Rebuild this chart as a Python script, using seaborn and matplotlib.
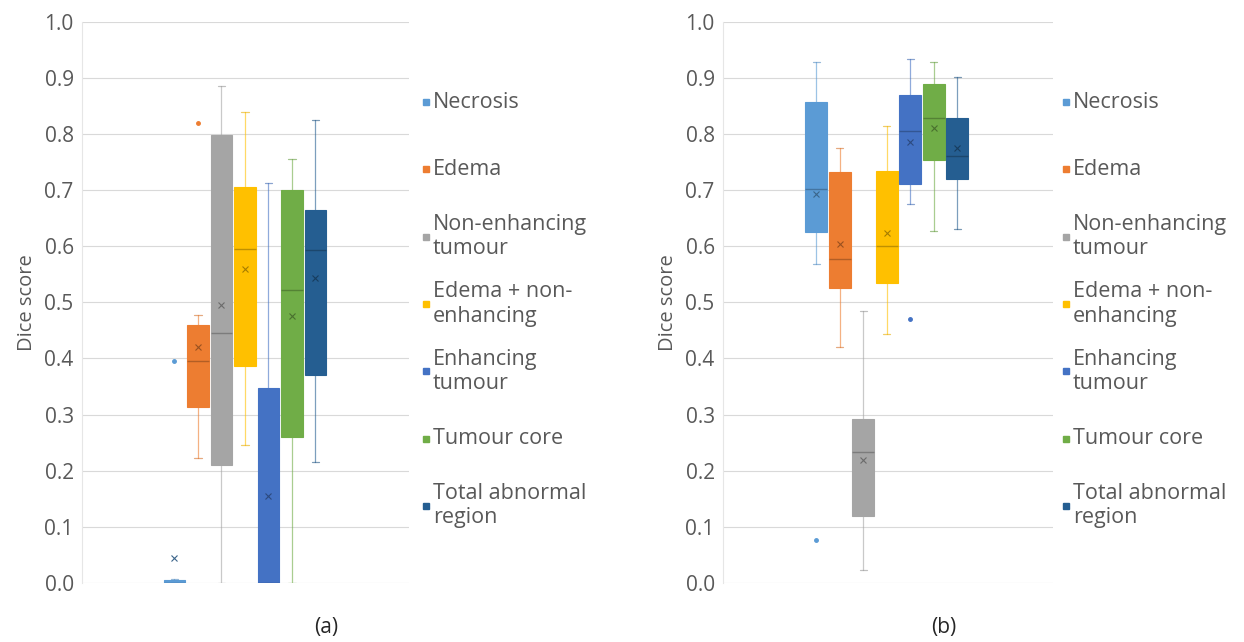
import numpy as np
import matplotlib
matplotlib.use("Agg")
import matplotlib.pyplot as plt
import matplotlib.colors as mcolors
import seaborn as sns

# Region names (legend labels, wrapped as in the figure)
regions = ["Necrosis", "Edema", "Non-enhancing\ntumour", "Edema + non-\nenhancing",
           "Enhancing\ntumour", "Tumour core", "Total abnormal\nregion"]
colors = ["#5B9BD5", "#ED7D31", "#A5A5A5", "#FFC000", "#4472C4", "#70AD47", "#255E91"]

# Panel (a) summary statistics
a_whislo = [0.000, 0.223, 0.000, 0.245, 0.000, 0.000, 0.215]
a_q1     = [0.000, 0.313, 0.210, 0.387, 0.000, 0.261, 0.371]
a_med    = [0.000, 0.395, 0.446, 0.595, 0.000, 0.522, 0.593]
a_q3     = [0.005, 0.460, 0.799, 0.705, 0.347, 0.700, 0.664]
a_whishi = [0.008, 0.477, 0.886, 0.840, 0.713, 0.756, 0.825]
a_mean   = [0.044, 0.420, 0.495, 0.560, 0.155, 0.476, 0.544]
a_fliers = [[0.396], [0.820], [], [], [], [], []]

# Panel (b) summary statistics
b_whislo = [0.568, 0.420, 0.023, 0.443, 0.676, 0.628, 0.631]
b_q1     = [0.625, 0.525, 0.120, 0.535, 0.710, 0.753, 0.719]
b_med    = [0.702, 0.577, 0.233, 0.600, 0.805, 0.828, 0.760]
b_q3     = [0.857, 0.732, 0.293, 0.734, 0.869, 0.889, 0.828]
b_whishi = [0.928, 0.775, 0.484, 0.815, 0.934, 0.928, 0.901]
b_mean   = [0.693, 0.604, 0.219, 0.623, 0.785, 0.811, 0.775]
b_fliers = [[0.076], [], [], [], [0.471], [], []]

yticks = np.round(np.arange(0, 1.01, 0.1), 1)
captions = ["(a)", "(b)"]

sns.set_theme(style="whitegrid")
plt.rcParams["font.family"] = ["Open Sans", "DejaVu Sans"]
text_color = "#595959"


def darken(c, f=0.3):
    r, g, b = mcolors.to_rgb(c)
    return (r * (1 - f), g * (1 - f), b * (1 - f))


def draw_panel(ax, xlim, whislo, q1, med, q3, whishi, mean, fliers):
    positions = np.arange(len(regions))
    for i in range(len(regions)):
        stats = [dict(whislo=whislo[i], q1=q1[i], med=med[i], q3=q3[i],
                      whishi=whishi[i], mean=mean[i], fliers=fliers[i])]
        c = colors[i]
        ax.bxp(stats, positions=[positions[i]], widths=0.92, patch_artist=True,
               showmeans=True, capwidths=0.3,
               boxprops=dict(facecolor=c, edgecolor=c, linewidth=0.8),
               medianprops=dict(color=darken(c, 0.25), linewidth=1.0),
               whiskerprops=dict(color=c, linewidth=0.9, alpha=0.6),
               capprops=dict(color=darken(c, 0.1), linewidth=0.9, alpha=0.6),
               meanprops=dict(marker="x", markeredgecolor=darken(c, 0.35),
                              markersize=5, markeredgewidth=0.8),
               flierprops=dict(marker="o", markerfacecolor=c, markeredgecolor=c,
                               markersize=2.5))
    ax.set_xlim(*xlim)
    ax.set_ylim(0, 1.0)
    ax.set_yticks(yticks)
    ax.set_yticklabels([f"{t:.1f}" for t in yticks])
    ax.set_xticks([])
    ax.grid(axis="y", color="#D9D9D9", linewidth=0.8)
    ax.grid(axis="x", visible=False)
    ax.set_axisbelow(True)
    for s in ["top", "right", "bottom"]:
        ax.spines[s].set_visible(False)
    ax.spines["left"].set_color("#E6E6E6")
    ax.spines["left"].set_linewidth(0.8)
    ax.tick_params(axis="y", labelsize=15, colors=text_color, length=0, pad=6)
    ax.set_ylabel("Dice score", fontsize=14.5, color=text_color, labelpad=5)


fig = plt.figure(figsize=(12.44, 6.42), dpi=100)
W, H = 1244, 642
y0, y1 = 583, 21.7
ax_a = fig.add_axes([82 / W, 1 - y0 / H, 327 / W, (y0 - y1) / H])
ax_b = fig.add_axes([723 / W, 1 - y0 / H, 330 / W, (y0 - y1) / H])

draw_panel(ax_a, (-3.936, 9.979), a_whislo, a_q1, a_med, a_q3, a_whishi, a_mean, a_fliers)
draw_panel(ax_b, (-3.966, 10.077), b_whislo, b_q1, b_med, b_q3, b_whishi, b_mean, b_fliers)

# Legends to the right of each panel, evenly spaced as in Excel
for mx in (426, 1066):
    for i, (lab, c) in enumerate(zip(regions, colors)):
        yc = 1 - (102 + i * 67.3) / H
        fig.patches.append(plt.Rectangle(((mx - 3) / W, yc - 3 / H), 6 / W, 6 / H,
                                         transform=fig.transFigure, color=c))
        fig.text((mx + 7) / W, yc, lab, fontsize=15.5, color=text_color,
                 va="center", ha="left", linespacing=1.2)

fig.text(326 / W, 1 - 628 / H, captions[0], fontsize=15, color="#262626", ha="center", va="center")
fig.text(944 / W, 1 - 628 / H, captions[1], fontsize=15, color="#262626", ha="center", va="center")

fig.savefig("out.png", dpi=100, facecolor="white")
